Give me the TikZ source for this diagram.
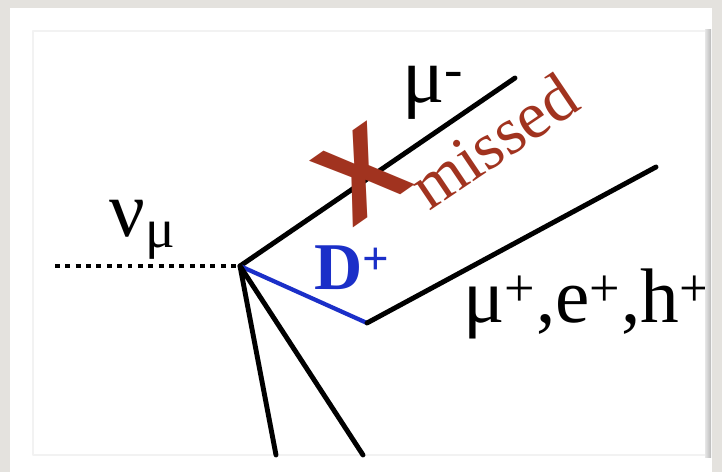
\documentclass[tikz,border=0pt]{standalone}
\usepackage{fontspec}
\setmainfont{Liberation Serif}
\newfontfamily\crossfont{Liberation Sans}
\definecolor{missred}{HTML}{A1331F}
\definecolor{dblue}{HTML}{1B2FC8}
\definecolor{framegray}{HTML}{E4E2DE}
\begin{document}
\begin{tikzpicture}[line cap=round,line join=round,x=0.02cm,y=-0.02cm,
	track/.style={line width=2.8pt},
	lbl/.style={font=\fontsize{45}{50}\selectfont,inner sep=0pt}]
	\useasboundingbox (0,0) rectangle (722,472);
	\fill[framegray] (0,0) rectangle (722,472);
	\fill[white] (10,8) rectangle (712,472);
	\draw[gray!10,line width=0.8pt] (33,31) rectangle (708,455);
	% vertex and track ends
	\coordinate (nu) at (55,266);
	\coordinate (vtx) at (240,266);
	\coordinate (mum) at (515,78);
	\coordinate (dpl) at (367,323);
	\coordinate (mup) at (656,167);
	\coordinate (jet1) at (276,455);
	\coordinate (jet2) at (363,455);
	\draw[line width=2.8pt,line cap=butt,dash pattern=on 2.8pt off 3.1pt] (nu)--(vtx);
	\draw[track] (vtx)--(mum);
	\draw[dblue,line width=2.4pt] (vtx)--(dpl);
	\draw[track] (dpl)--(mup);
	\draw[track] (vtx)--(jet1) (vtx)--(jet2);
	\node[lbl,anchor=base west] (numu) at (109,237) {ν\textsubscript{μ}};
	\node[lbl,anchor=base west] (muminus) at (402,103) {μ\textsuperscript{-}};
	\node[lbl,anchor=base west,font=\fontsize{44}{50}\selectfont] (leptons) at (463,322) {μ\textsuperscript{+},e\textsuperscript{+},h\textsuperscript{+}};
	\node[inner sep=0pt,anchor=base west,text=dblue,font=\fontsize{38}{42}\selectfont\bfseries] (dlbl) at (314,290) {D\textsuperscript{+}};
	\node[inner sep=0pt,rotate=35,text=missred,font=\crossfont\bfseries\fontsize{66}{70}\selectfont] (cross) at (361,174) {X};
	\node[inner sep=0pt,rotate=34,anchor=base west,text=missred,font=\fontsize{38}{43}\selectfont] (missed) at (429,212) {missed};
	\shade[left color=gray!20,right color=gray!55] (705,30) rectangle (711,457);
\end{tikzpicture}
\end{document}
